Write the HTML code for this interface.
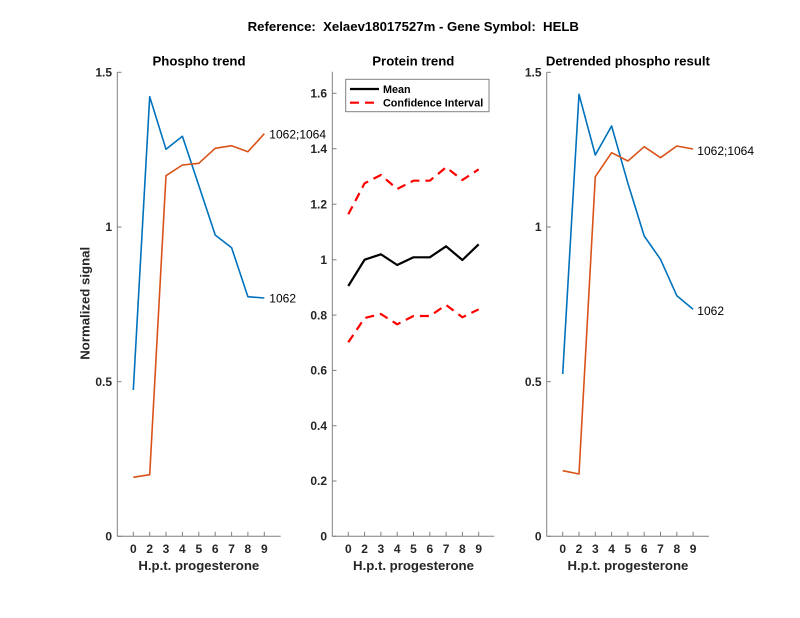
<!DOCTYPE html>
<html>
<head>
<meta charset="utf-8">
<style>
html,body{margin:0;padding:0;background:#fff;}
svg{display:block;}
text{font-family:"Liberation Sans",Arial,sans-serif;}
</style>
</head>
<body>
<svg width="800" height="618" viewBox="0 0 800 618" xmlns="http://www.w3.org/2000/svg">
<rect width="800" height="618" fill="#fff"/>

<!-- Main title -->
<text x="413.3" y="31" font-size="13.2" font-weight="bold" fill="#000" text-anchor="middle" xml:space="preserve">Reference:  Xelaev18017527m - Gene Symbol:  HELB</text>

<!-- ================= LEFT PANEL ================= -->
<g>
<text x="199" y="65.5" font-size="13.2" font-weight="bold" fill="#000" text-anchor="middle">Phospho trend</text>
<line x1="117.3" y1="72.3" x2="117.3" y2="536.3" stroke="#808080" stroke-width="1"/>
<line x1="117.3" y1="536.3" x2="280.7" y2="536.3" stroke="#808080" stroke-width="1"/>
<g stroke="#808080" stroke-width="1">
<line x1="117.3" y1="536.3" x2="121.5" y2="536.3"/>
<line x1="117.3" y1="381.7" x2="121.5" y2="381.7"/>
<line x1="117.3" y1="227" x2="121.5" y2="227"/>
<line x1="117.3" y1="72.3" x2="121.5" y2="72.3"/>
</g>
<g font-size="12" font-weight="bold" fill="#262626" text-anchor="end">
<text x="112" y="540.5">0</text>
<text x="112" y="385.9">0.5</text>
<text x="112" y="231.2">1</text>
<text x="112" y="76.5">1.5</text>
</g>
<g stroke="#808080" stroke-width="1">
<line x1="133.3" y1="536.3" x2="133.3" y2="531.8"/>
<line x1="149.7" y1="536.3" x2="149.7" y2="531.8"/>
<line x1="166" y1="536.3" x2="166" y2="531.8"/>
<line x1="182.4" y1="536.3" x2="182.4" y2="531.8"/>
<line x1="198.8" y1="536.3" x2="198.8" y2="531.8"/>
<line x1="215.2" y1="536.3" x2="215.2" y2="531.8"/>
<line x1="231.6" y1="536.3" x2="231.6" y2="531.8"/>
<line x1="247.9" y1="536.3" x2="247.9" y2="531.8"/>
<line x1="264.3" y1="536.3" x2="264.3" y2="531.8"/>
</g>
<g font-size="12" font-weight="bold" fill="#262626" text-anchor="middle">
<text x="133.3" y="552.9">0</text>
<text x="149.7" y="552.9">2</text>
<text x="166" y="552.9">3</text>
<text x="182.4" y="552.9">4</text>
<text x="198.8" y="552.9">5</text>
<text x="215.2" y="552.9">6</text>
<text x="231.6" y="552.9">7</text>
<text x="247.9" y="552.9">8</text>
<text x="264.3" y="552.9">9</text>
</g>
<text x="198.8" y="570" font-size="13.2" font-weight="bold" fill="#262626" text-anchor="middle">H.p.t. progesterone</text>
<text transform="translate(89.5,303.3) rotate(-90)" font-size="13.2" font-weight="bold" fill="#262626" text-anchor="middle">Normalized signal</text>
<polyline fill="none" stroke="#0072BD" stroke-width="1.6" stroke-linejoin="round"
 points="133.3,390 149.7,96.7 166,149.3 182.4,136.3 198.8,185.5 215.2,235 231.6,247.7 247.9,296.7 264.3,298"/>
<polyline fill="none" stroke="#D95319" stroke-width="1.6" stroke-linejoin="round"
 points="133.3,477.3 149.7,474.7 166,175.7 182.4,165 198.8,163.3 215.2,148.3 231.6,145.7 247.9,151.7 264.3,133.7"/>
<text x="269.3" y="138.3" font-size="12" fill="#000">1062;1064</text>
<text x="269.3" y="302.6" font-size="12" fill="#000">1062</text>
</g>

<!-- ================= MIDDLE PANEL ================= -->
<g>
<text x="413.3" y="65.5" font-size="13.2" font-weight="bold" fill="#000" text-anchor="middle">Protein trend</text>
<line x1="332.3" y1="71.7" x2="332.3" y2="536.3" stroke="#808080" stroke-width="1"/>
<line x1="332.3" y1="536.3" x2="494.3" y2="536.3" stroke="#808080" stroke-width="1"/>
<g stroke="#808080" stroke-width="1">
<line x1="332.3" y1="536.3" x2="336.5" y2="536.3"/>
<line x1="332.3" y1="481" x2="336.5" y2="481"/>
<line x1="332.3" y1="425.7" x2="336.5" y2="425.7"/>
<line x1="332.3" y1="370.4" x2="336.5" y2="370.4"/>
<line x1="332.3" y1="315.1" x2="336.5" y2="315.1"/>
<line x1="332.3" y1="259.8" x2="336.5" y2="259.8"/>
<line x1="332.3" y1="204.2" x2="336.5" y2="204.2"/>
<line x1="332.3" y1="148.7" x2="336.5" y2="148.7"/>
<line x1="332.3" y1="93.3" x2="336.5" y2="93.3"/>
</g>
<g font-size="12" font-weight="bold" fill="#262626" text-anchor="end">
<text x="327" y="540.5">0</text>
<text x="327" y="485.2">0.2</text>
<text x="327" y="429.9">0.4</text>
<text x="327" y="374.6">0.6</text>
<text x="327" y="319.3">0.8</text>
<text x="327" y="264">1</text>
<text x="327" y="208.4">1.2</text>
<text x="327" y="152.9">1.4</text>
<text x="327" y="97.5">1.6</text>
</g>
<g stroke="#808080" stroke-width="1">
<line x1="348.3" y1="536.3" x2="348.3" y2="531.8"/>
<line x1="364.6" y1="536.3" x2="364.6" y2="531.8"/>
<line x1="380.9" y1="536.3" x2="380.9" y2="531.8"/>
<line x1="397.2" y1="536.3" x2="397.2" y2="531.8"/>
<line x1="413.5" y1="536.3" x2="413.5" y2="531.8"/>
<line x1="429.8" y1="536.3" x2="429.8" y2="531.8"/>
<line x1="446.1" y1="536.3" x2="446.1" y2="531.8"/>
<line x1="462.4" y1="536.3" x2="462.4" y2="531.8"/>
<line x1="478.7" y1="536.3" x2="478.7" y2="531.8"/>
</g>
<g font-size="12" font-weight="bold" fill="#262626" text-anchor="middle">
<text x="348.3" y="552.9">0</text>
<text x="364.6" y="552.9">2</text>
<text x="380.9" y="552.9">3</text>
<text x="397.2" y="552.9">4</text>
<text x="413.5" y="552.9">5</text>
<text x="429.8" y="552.9">6</text>
<text x="446.1" y="552.9">7</text>
<text x="462.4" y="552.9">8</text>
<text x="478.7" y="552.9">9</text>
</g>
<text x="413.5" y="570" font-size="13.2" font-weight="bold" fill="#262626" text-anchor="middle">H.p.t. progesterone</text>
<polyline fill="none" stroke="#FF0000" stroke-width="2.2" stroke-dasharray="9,6" stroke-linejoin="round"
 points="348.3,214.3 364.6,183.3 380.9,175 397.2,189 413.5,180.7 429.8,180.7 446.1,167.3 462.4,180 478.7,169.3"/>
<polyline fill="none" stroke="#000" stroke-width="2.2" stroke-linejoin="round"
 points="348.3,286 364.6,259.7 380.9,254.3 397.2,265 413.5,257.3 429.8,257.3 446.1,246.3 462.4,260 478.7,244.3"/>
<polyline fill="none" stroke="#FF0000" stroke-width="2.2" stroke-dasharray="9,6" stroke-linejoin="round"
 points="348.3,342.3 364.6,318 380.9,314 397.2,324.3 413.5,316 429.8,316 446.1,305 462.4,317.3 478.7,309.3"/>
<rect x="345.7" y="79.3" width="143.3" height="32.4" fill="#fff" stroke="#808080" stroke-width="1"/>
<line x1="350" y1="89" x2="379" y2="89" stroke="#000" stroke-width="2.2"/>
<text x="383" y="93" font-size="10.8" font-weight="bold" fill="#000">Mean</text>
<line x1="350" y1="102.7" x2="379" y2="102.7" stroke="#FF0000" stroke-width="2.2" stroke-dasharray="9,6"/>
<text x="383" y="106.7" font-size="10.8" font-weight="bold" fill="#000">Confidence Interval</text>
</g>

<!-- ================= RIGHT PANEL ================= -->
<g>
<text x="627.9" y="65.5" font-size="13.2" font-weight="bold" fill="#000" text-anchor="middle">Detrended phospho result</text>
<line x1="546.7" y1="72.3" x2="546.7" y2="536.3" stroke="#808080" stroke-width="1"/>
<line x1="546.7" y1="536.3" x2="709" y2="536.3" stroke="#808080" stroke-width="1"/>
<g stroke="#808080" stroke-width="1">
<line x1="546.7" y1="536.3" x2="550.9" y2="536.3"/>
<line x1="546.7" y1="381.7" x2="550.9" y2="381.7"/>
<line x1="546.7" y1="227" x2="550.9" y2="227"/>
<line x1="546.7" y1="72.3" x2="550.9" y2="72.3"/>
</g>
<g font-size="12" font-weight="bold" fill="#262626" text-anchor="end">
<text x="541.5" y="540.5">0</text>
<text x="541.5" y="385.9">0.5</text>
<text x="541.5" y="231.2">1</text>
<text x="541.5" y="76.5">1.5</text>
</g>
<g stroke="#808080" stroke-width="1">
<line x1="562.7" y1="536.3" x2="562.7" y2="531.8"/>
<line x1="579" y1="536.3" x2="579" y2="531.8"/>
<line x1="595.3" y1="536.3" x2="595.3" y2="531.8"/>
<line x1="611.6" y1="536.3" x2="611.6" y2="531.8"/>
<line x1="627.9" y1="536.3" x2="627.9" y2="531.8"/>
<line x1="644.2" y1="536.3" x2="644.2" y2="531.8"/>
<line x1="660.5" y1="536.3" x2="660.5" y2="531.8"/>
<line x1="676.8" y1="536.3" x2="676.8" y2="531.8"/>
<line x1="693.1" y1="536.3" x2="693.1" y2="531.8"/>
</g>
<g font-size="12" font-weight="bold" fill="#262626" text-anchor="middle">
<text x="562.7" y="552.9">0</text>
<text x="579" y="552.9">2</text>
<text x="595.3" y="552.9">3</text>
<text x="611.6" y="552.9">4</text>
<text x="627.9" y="552.9">5</text>
<text x="644.2" y="552.9">6</text>
<text x="660.5" y="552.9">7</text>
<text x="676.8" y="552.9">8</text>
<text x="693.1" y="552.9">9</text>
</g>
<text x="627.9" y="570" font-size="13.2" font-weight="bold" fill="#262626" text-anchor="middle">H.p.t. progesterone</text>
<polyline fill="none" stroke="#0072BD" stroke-width="1.6" stroke-linejoin="round"
 points="562.7,374 579,94.3 595.3,155 611.6,126 627.9,183.3 644.2,236 660.5,259.3 676.8,295.7 693.1,309.3"/>
<polyline fill="none" stroke="#D95319" stroke-width="1.6" stroke-linejoin="round"
 points="562.7,470.7 579,474 595.3,176.7 611.6,152.7 627.9,161 644.2,146.7 660.5,157.7 676.8,146 693.1,149"/>
<text x="697.3" y="155" font-size="12" fill="#000">1062;1064</text>
<text x="697.3" y="315" font-size="12" fill="#000">1062</text>
</g>
</svg>
</body>
</html>
